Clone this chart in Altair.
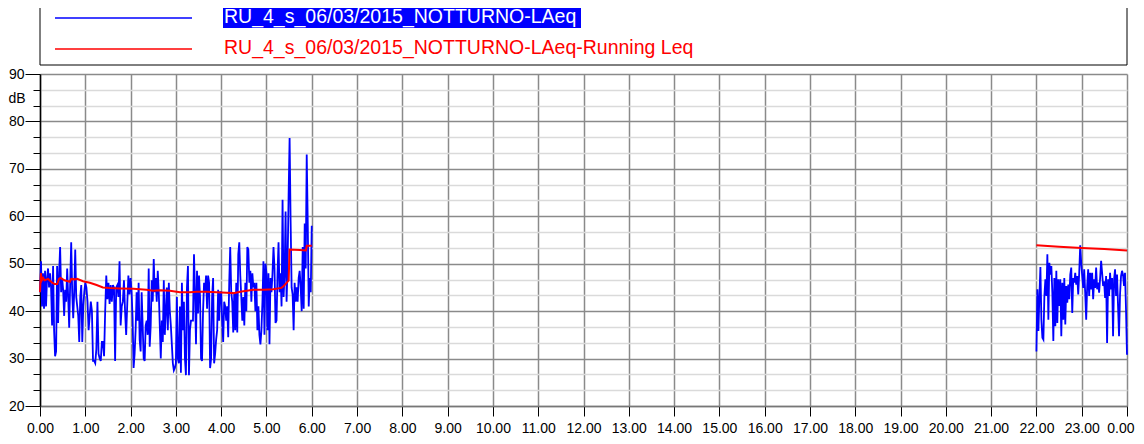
import altair as alt
import pandas as pd

# ---- data ----
laeq_h0 = [44, 50.5, 41, 48, 40.5, 48.5, 41, 47, 49, 45, 48, 45, 37, 49.5, 36, 30.5, 31.5, 49.5, 37.5, 48,
           53.5, 44, 47, 44.5, 39, 44.5, 42, 49, 43, 36.5, 46, 54.5, 44, 38.5, 44, 53, 43, 41, 39, 33.5,
           43, 45.5, 33.5, 41, 44]
laeq_h1 = [46, 45, 42, 36, 39, 42, 40, 29.5, 29.5, 29, 32, 42, 31, 30, 29.5, 33.5, 33.5, 30.5, 40, 47.5,
           42.5, 46, 41.5, 45.5, 42, 45.5, 45, 29.5, 45, 45.5, 43, 50.5, 37, 41, 42, 46.5, 40, 35, 41.5,
           47.5, 43.5]
laeq_h2 = [47, 44, 38.5, 28, 31, 36, 44, 38, 46, 34, 31.5, 44, 37, 30, 29.5, 37, 38, 35, 49, 32.5,
           37, 46.5, 42, 51, 44, 47, 42, 48.5, 44, 37, 30, 38, 33.5, 46.5, 35, 40, 45, 36, 46, 40,
           37, 33, 29, 27.5, 28]
laeq_h3 = [29, 43, 30, 29, 41, 27, 46, 36, 42, 30, 26.5, 45, 49.5, 26.5, 36, 38, 38, 38, 52, 44,
           33, 48.5, 39.5, 47.5, 43, 30, 29.5, 40, 46, 44, 47.5, 40.5, 47.5, 46, 28, 30, 43, 47, 29, 31,
           34, 36, 44.5, 38, 44]
laeq_h4 = [44, 38, 33.5, 42, 41, 38, 41, 34.5, 46, 53.5, 44, 42, 35.5, 44, 36, 46, 35.5, 52, 54.5, 47.5,
           43, 38, 43, 37, 46, 40, 53.5, 53, 46, 48.5, 42, 48, 45, 46, 40, 46, 36, 41, 35, 33,
           36, 42, 50.5, 35, 50]
laeq_h5 = [48, 36, 48, 33, 47, 44, 48, 53.5, 49, 37.5, 38, 48, 54.5, 44, 48, 41, 63.5, 43, 47.5, 61,
           42, 50, 64.5, 76.5, 59, 45, 43.5, 36, 46, 42, 45, 42, 47, 48.5, 45, 40, 53.5, 40.5, 58.5, 49,
           73, 59, 41, 47, 44, 58]
laeq_late = [31.5, 44.6, 35.8, 43.2, 49.3, 38.2, 34.4, 34.0, 43.2, 46.7, 43.2, 52.0, 38.2, 50.2, 47.7,
             49.5, 43.9, 33.7, 47.0, 36.8, 48.5, 37.5, 46.7, 41.1, 46.7, 34.7, 46.0, 38.2, 47.0, 37.2,
             45.3, 41.8, 45.6, 42.5, 47.7, 49.2, 39.6, 47.0, 46.0, 48.1, 45.6, 47.4, 43.5, 48.1, 53.9,
             50.2, 47.4, 44.9, 48.8, 43.9, 38.2, 45.3, 48.8, 43.2, 48.1, 44.6, 48.1, 42.5, 46.7, 44.9,
             49.2, 44.6, 46.0, 43.9, 47.0, 50.6, 48.1, 45.3, 46.3, 42.8, 47.4, 33.3, 46.7, 43.2, 48.1,
             44.6, 47.0, 34.7, 46.7, 48.8, 43.2, 47.7, 41.1, 34.7, 43.5, 47.4, 48.5, 47.7, 45.3, 48.1,
             40.4, 30.8]

running_t = [0.0, 0.02, 0.04, 0.07, 0.1, 0.18, 0.21, 0.27, 0.32, 0.38, 0.42, 0.45, 0.54, 0.66, 0.69,
             0.77, 0.82, 0.95, 1.10, 1.25, 1.39, 1.54, 1.76, 2.06, 2.35, 2.50, 2.65, 2.87, 3.09, 3.31,
             3.46, 3.68, 3.90, 4.12, 4.27, 4.42, 4.71, 4.93, 5.15, 5.33, 5.37, 5.45, 5.49, 5.51, 5.74,
             5.87, 5.89, 6.0]
running_v = [44, 48, 46.5, 47, 46.5, 46.8, 46.5, 46, 45.7, 45.7, 46.8, 47, 46.5, 46.2, 46.8,
             46.7, 46.8, 46.3, 46, 45.5, 45, 44.9, 44.8, 44.7, 44.5, 44.3, 44.4, 44.3, 44.0, 44.0,
             44.1, 44.1, 44.0, 43.9, 43.8, 44.1, 44.5, 44.5, 44.6, 44.9, 45.2, 46, 46.5, 53, 52.9,
             52.8, 53.8, 53.8]
running_late_t = [22.0, 22.5, 23.0, 23.5, 24.0]
running_late_v = [53.9, 53.6, 53.3, 53.1, 52.8]

y_ticks = [20, 23.333, 26.667, 30, 33.333, 36.667, 40, 43.333, 46.667, 50, 53.333, 56.667,
           60, 63.333, 66.667, 70, 73.333, 76.667, 80, 83.333, 86.667, 90]
x_ticks = list(range(0, 25))

name_blue = "RU_4_s_06/03/2015_NOTTURNO-LAeq"
name_red = "RU_4_s_06/03/2015_NOTTURNO-LAeq-Running Leq"

# ---- tables ----
rows = []
for h, lst in enumerate([laeq_h0, laeq_h1, laeq_h2, laeq_h3, laeq_h4]):
    n = len(lst)
    for i, v in enumerate(lst):
        rows.append({"t": h + i / n, "v": v, "seg": "a"})
n5 = len(laeq_h5)
for i, v in enumerate(laeq_h5):
    rows.append({"t": 5 + i / (n5 - 1), "v": v, "seg": "a"})
nl = len(laeq_late)
for i, v in enumerate(laeq_late):
    rows.append({"t": 22 + 2 * i / (nl - 1), "v": v, "seg": "b"})
blue_df = pd.DataFrame(rows)

red_df = pd.DataFrame({
    "t": running_t + running_late_t,
    "v": running_v + running_late_v,
    "seg": ["a"] * len(running_t) + ["b"] * len(running_late_t),
})

FONT = "Liberation Sans"
W, H = 1087, 332
MAJOR = "datum.value % 10 == 0"
LAST = "datum.value == 24"

x_enc = alt.X("t:Q", scale=alt.Scale(domain=[0, 24], nice=False, zero=False),
              axis=alt.Axis(values=x_ticks, tickCount=40,
                            labelExpr="(datum.value % 24) + '.00'", title=None,
                            grid=True, gridColor="#8a8a8a", gridWidth=1.5,
                            tickColor="black", tickSize=10, tickWidth=1,
                            domainColor="#777777", domainWidth=1.5,
                            labelFont=FONT, labelFontSize=14, labelColor="black",
                            labelAlign={"condition": {"test": LAST, "value": "right"}, "value": "center"},
                            labelOffset={"condition": {"test": LAST, "value": 7}, "value": 0},
                            labelPadding=5, labelFlush=False, labelOverlap=False))
y_enc = alt.Y("v:Q", scale=alt.Scale(domain=[20, 90], nice=False, zero=False),
              axis=alt.Axis(values=y_ticks, tickCount=40, title=None,
                            labelExpr=MAJOR + " ? datum.value : ''",
                            labelOverlap=False,
                            grid=True,
                            gridColor={"condition": {"test": MAJOR, "value": "#8a8a8a"},
                                       "value": "#dadada"},
                            gridWidth=1.5,
                            tickColor="black",
                            tickSize={"condition": {"test": MAJOR, "value": 15}, "value": 7},
                            tickWidth=1,
                            domainColor="black", domainWidth=1.5,
                            labelFont=FONT, labelFontSize=14, labelColor="black",
                            labelPadding=1))

blue = alt.Chart(blue_df).mark_line(color="#0000ff", strokeWidth=1.8).encode(
    x=x_enc, y=y_enc, detail="seg:N")
red = alt.Chart(red_df).mark_line(color="#ff0000", strokeWidth=2).encode(
    x="t:Q", y="v:Q", detail="seg:N")

dummy = pd.DataFrame({"a": [0]})
box = alt.Chart(dummy).mark_rect(fill="white", stroke="black", strokeWidth=1).encode(
    x=alt.value(0), x2=alt.value(W), y=alt.value(-71), y2=alt.value(-9))
hl = alt.Chart(dummy).mark_rect(fill="#0000ff").encode(
    x=alt.value(183), x2=alt.value(541), y=alt.value(-70), y2=alt.value(-46))
leg_blue_line = alt.Chart(dummy).mark_rule(color="#4040ff", strokeWidth=2).encode(
    x=alt.value(15), x2=alt.value(152), y=alt.value(-56))
leg_red_line = alt.Chart(dummy).mark_rule(color="#ff4040", strokeWidth=2).encode(
    x=alt.value(15), x2=alt.value(152), y=alt.value(-25))
leg_blue_text = alt.Chart(dummy).mark_text(
    align="left", baseline="alphabetic", font=FONT, fontSize=19.5, color="white", text=name_blue
).encode(x=alt.value(184), y=alt.value(-51))
leg_red_text = alt.Chart(dummy).mark_text(
    align="left", baseline="alphabetic", font=FONT, fontSize=19.5, color="#ff0000", text=name_red
).encode(x=alt.value(184), y=alt.value(-20))
db_text = alt.Chart(dummy).mark_text(
    align="center", baseline="middle", font=FONT, fontSize=14, color="black", text="dB"
).encode(x=alt.value(-23), y=alt.value(25))

chart = alt.layer(
    blue, red, box, hl, leg_blue_line, leg_red_line, leg_blue_text, leg_red_text, db_text
).properties(
    width=W, height=H,
    autosize=alt.AutoSizeParams(type="none"),
    padding={"left": 32, "top": 66, "right": 9, "bottom": 30},
    background="white",
).configure_view(strokeWidth=0)

chart.save("out.html", embed_options={"renderer": "svg", "actions": False})
